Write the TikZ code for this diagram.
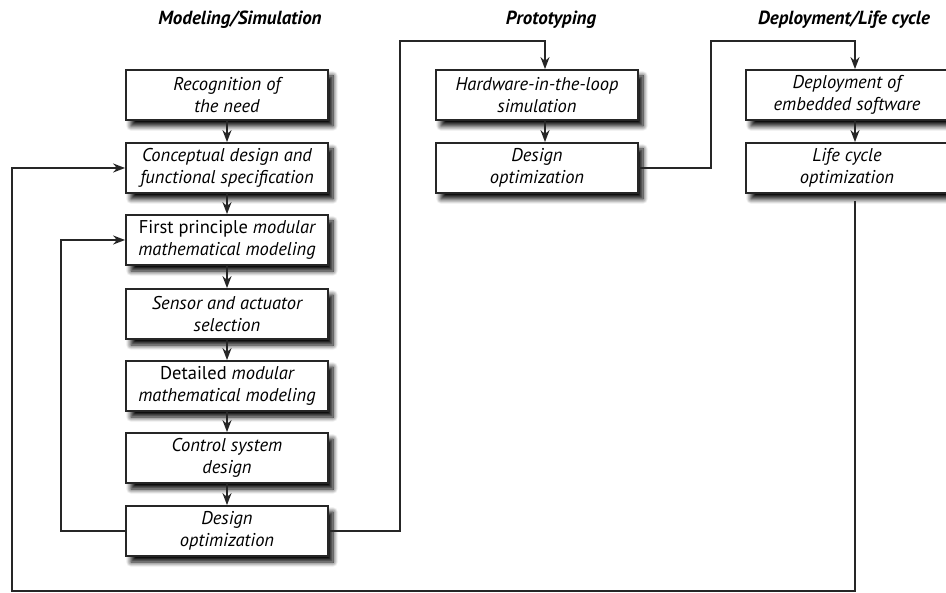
\documentclass[tikz,border=0pt]{standalone}
\usepackage{fontspec}
\setmainfont{PT Sans}
\usetikzlibrary{arrows.meta,
                shadows.blur}
\usetikzlibrary{calc}

\begin{document}
\begin{tikzpicture}[x=1pt, y=-1pt,
       box/.style = {draw=black!85, line width=1.8pt, fill=white,
                     minimum width=202pt, minimum height=50pt,
                     align=center, inner sep=2pt,
                     font=\fontsize{18.5}{22}\selectfont\itshape,
                     blur shadow={shadow xshift=5pt, shadow yshift=-6pt,
                                  shadow blur radius=5pt,
                                  shadow blur steps=8, shadow opacity=100}},
      head/.style = {font=\fontsize{19}{22}\selectfont\bfseries\itshape},
      line/.style = {draw=black!85, line width=1.8pt},
       tip/.style = {-{Stealth[length=12pt,width=9pt]}},
every edge/.style = {line, tip}
                        ]
    % picture size
    \useasboundingbox (0,0) rectangle (946,593);
    \def\dx{8pt}

    % column titles
    \node[head] (tsim)  at (240,20) {Modeling/Simulation};
    \node[head] (tprot) at (551,20) {Prototyping};
    \node[head] (tdepl) at (844,20) {Deployment/Life cycle};

    % Modeling/Simulation
    \node[box] (rec)      at (227,95)  {Recognition of\\the need};
    \node[box] (concept)  at (227,168) {Conceptual design and\\functional specification};
    \node[box] (firstp)   at (227,240) {{\upshape First principle} modular\\mathematical modeling};
    \node[box] (sensor)   at (227,314) {Sensor and actuator\\selection};
    \node[box] (detailed) at (227,386) {{\upshape Detailed} modular\\mathematical modeling};
    \node[box] (control)  at (227,458) {Control system\\design};
    \node[box] (optA)     at (227,531) {Design\\optimization};

    % Prototyping
    \node[box] (hil)  at (537,95)  {Hardware-in-the-loop\\simulation};
    \node[box] (optB) at (537,168) {Design\\optimization};

    % Deployment/Life cycle
    \node[box] (deploy) at (847,95)  {Deployment of\\embedded software};
    \node[box] (life)   at (847,168) {Life cycle\\optimization};

    \path (rec) edge (concept);
    \path (concept) edge (firstp);
    \path (firstp) edge (sensor);
    \path (sensor) edge (detailed);
    \path (detailed) edge (control);
    \path (control) edge (optA);

    \path ([xshift=\dx]hil.south) edge ([xshift=\dx]optB.north);
    \path ([xshift=\dx]deploy.south) edge ([xshift=\dx]life.north);

    % links between the columns
    \draw[line, tip] (optA.east) -| (400,41) -| ([xshift=\dx]hil.north);
    \draw[line, tip] (optB.east) -| (711,41) -| ([xshift=\dx]deploy.north);

    % feedback loops
    \draw[line, tip] (optA.west) -| (61,240) -- (firstp.west);
    \draw[line, tip, shorten <=7pt] ([xshift=\dx]life.south) |- (12,591) |- (concept.west);

\end{tikzpicture}
\end{document}
